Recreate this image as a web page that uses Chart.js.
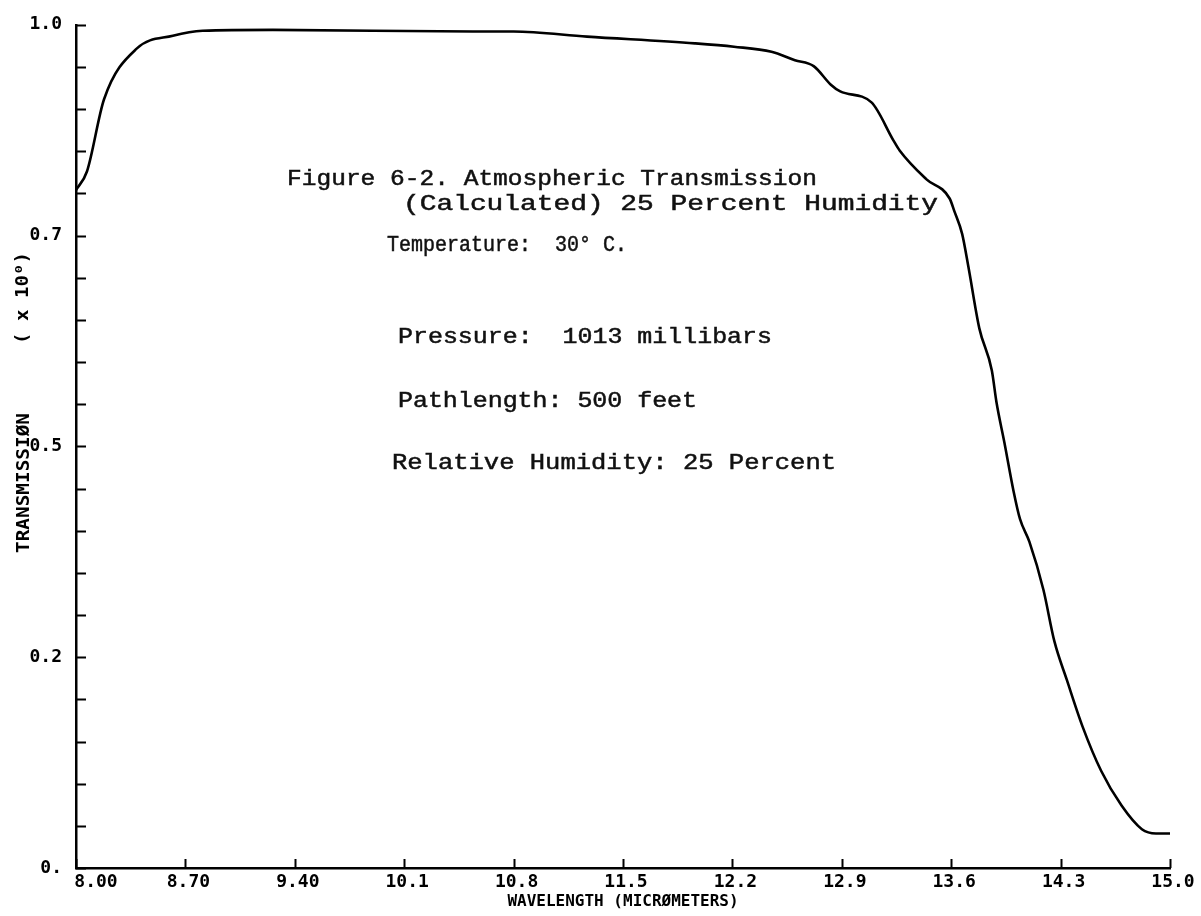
<!DOCTYPE html>
<html>
<head>
<meta charset="utf-8">
<title>Atmospheric Transmission</title>
<script src="https://cdn.jsdelivr.net/npm/chart.js@4.4.1/dist/chart.umd.min.js"></script>
<style>
  html, body { margin: 0; padding: 0; background: #fff; }
  #wrap { width: 1201px; height: 916px; }
</style>
</head>
<body>
<div id="wrap"><canvas id="chart" width="1201" height="916"></canvas></div>
<script>
// Calculated transmission curve, 8 to 15 micrometers
const wavelength = [
  8.00, 8.07, 8.18, 8.39, 8.62, 8.81, 9.26, 10.54, 10.80, 11.27,
  11.96, 12.21, 12.45, 12.60, 12.72, 12.83, 12.89, 13.09, 13.23, 13.27,
  13.44, 13.59, 13.62, 13.67, 13.71, 13.78, 13.86, 13.89, 13.94, 14.00,
  14.04, 14.10, 14.19, 14.26, 14.34, 14.44, 14.56, 14.69, 14.82, 14.91, 15.00
];
const transmission = [
  0.804, 0.826, 0.912, 0.972, 0.987, 0.993, 0.994, 0.992, 0.992, 0.986,
  0.978, 0.974, 0.968, 0.958, 0.951, 0.929, 0.921, 0.908, 0.863, 0.851,
  0.817, 0.794, 0.779, 0.752, 0.713, 0.640, 0.590, 0.552, 0.505, 0.446,
  0.414, 0.387, 0.330, 0.269, 0.223, 0.168, 0.115, 0.074, 0.046, 0.041, 0.041
];

// Axis ticks
const xTickValues = [8.0, 8.7, 9.4, 10.1, 10.8, 11.5, 12.2, 12.9, 13.6, 14.3, 15.0];
const xTickLabels = ['8.00', '8.70', '9.40', '10.1', '10.8', '11.5', '12.2', '12.9', '13.6', '14.3', '15.0'];
const yTickValues = [0, 0.05, 0.10, 0.15, 0.20, 0.25, 0.30, 0.35, 0.40, 0.45, 0.50,
                     0.55, 0.60, 0.65, 0.70, 0.75, 0.80, 0.85, 0.90, 0.95, 1.0];
const yLabelValues = [0, 0.25, 0.5, 0.75, 1.0];
const yTickLabels = ['0.', '0.2', '0.5', '0.7', '1.0'];

// Axis titles and the typed caption block
const xTitle = 'WAVELENGTH (MICRØMETERS)';
const yTitle = 'TRANSMISSIØN';
const yUnits = '( x 10⁰)';
const noteLines = [
  'Figure 6-2. Atmospheric Transmission',
  '(Calculated) 25 Percent Humidity',
  'Temperature:  30° C.',
  'Pressure:  1013 millibars',
  'Pathlength: 500 feet',
  'Relative Humidity: 25 Percent'
];

const MONO = '"DejaVu Sans Mono", "Liberation Mono", monospace';
const TYPE = '"Liberation Mono", "DejaVu Sans Mono", monospace';

// Each caption line is placed by its left edge, centre line and width
const noteBoxes = [
  { x: 287, y: 179, w: 530 },
  { x: 403, y: 204, w: 535 },
  { x: 387, y: 245, w: 240 },
  { x: 398, y: 337, w: 374 },
  { x: 398, y: 401, w: 299 },
  { x: 392, y: 463, w: 444 }
];

function drawFitted(ctx, text, x, y, w, stroke) {
  const natural = ctx.measureText(text).width;
  ctx.save();
  ctx.translate(x, y);
  ctx.scale(w / natural, 1);
  ctx.fillText(text, 0, 0);
  if (stroke) ctx.strokeText(text, 0, 0);
  ctx.restore();
}

const decorations = {
  id: 'decorations',
  afterDraw(chart) {
    const ctx = chart.ctx;
    const area = chart.chartArea;
    const xs = chart.scales.x;
    const ys = chart.scales.y;

    // Inward tick marks
    ctx.save();
    ctx.strokeStyle = '#000';
    ctx.lineWidth = 2;
    ctx.beginPath();
    xTickValues.forEach(v => {
      const px = Math.round(xs.getPixelForValue(v)) + 0.5;
      ctx.moveTo(px, area.bottom);
      ctx.lineTo(px, area.bottom - 9);
    });
    yTickValues.forEach(v => {
      const py = Math.round(ys.getPixelForValue(v)) + 0.5;
      ctx.moveTo(area.left, py);
      ctx.lineTo(area.left + 10, py);
    });
    ctx.stroke();
    ctx.restore();

    // Wavelength labels under the axis; the first one sits clear of the corner
    ctx.save();
    ctx.fillStyle = '#000';
    ctx.font = 'bold 18px ' + MONO;
    ctx.textAlign = 'center';
    ctx.textBaseline = 'middle';
    xTickValues.forEach((v, i) => {
      const shift = i === 0 ? 20 : 3;
      ctx.fillText(xTickLabels[i], xs.getPixelForValue(v) + shift, area.bottom + 14);
    });
    ctx.restore();

    // Vertical axis title, in two parts
    ctx.save();
    ctx.fillStyle = '#000';
    ctx.font = 'bold 18px ' + MONO;
    ctx.textAlign = 'left';
    ctx.textBaseline = 'middle';
    ctx.translate(24, 483);
    ctx.rotate(-Math.PI / 2);
    drawFitted(ctx, yTitle, -70, 0, 140);
    ctx.restore();

    ctx.save();
    ctx.fillStyle = '#000';
    ctx.font = 'bold 17px ' + MONO;
    ctx.textAlign = 'left';
    ctx.textBaseline = 'middle';
    ctx.translate(24, 298);
    ctx.rotate(-Math.PI / 2);
    drawFitted(ctx, yUnits, -46, 0, 92);
    ctx.restore();

    // Caption block
    ctx.save();
    ctx.fillStyle = '#111';
    ctx.strokeStyle = '#111';
    ctx.lineWidth = 0.5;
    ctx.font = '22px ' + TYPE;
    ctx.textAlign = 'left';
    ctx.textBaseline = 'middle';
    noteLines.forEach((t, i) => {
      const b = noteBoxes[i];
      drawFitted(ctx, t, b.x, b.y, b.w, true);
    });
    ctx.restore();
  }
};

const points = wavelength.map((x, i) => ({ x: x, y: transmission[i] }));

new Chart(document.getElementById('chart'), {
  type: 'line',
  data: {
    datasets: [{
      data: points,
      borderColor: '#000',
      borderWidth: 2.6,
      pointRadius: 0,
      fill: false,
      cubicInterpolationMode: 'monotone'
    }]
  },
  options: {
    responsive: false,
    animation: false,
    events: [],
    layout: { padding: { top: 24, right: 31, left: 0, bottom: 0 } },
    plugins: { legend: { display: false }, tooltip: { enabled: false } },
    scales: {
      x: {
        type: 'linear',
        min: 8,
        max: 15,
        afterBuildTicks: s => { s.ticks = xTickValues.map(v => ({ value: v })); },
        afterFit: s => { s.height = 48; },
        grid: { display: false, drawTicks: false },
        border: { display: true, color: '#000', width: 2.5 },
        ticks: { display: false },
        title: {
          display: true,
          text: xTitle,
          color: '#000',
          font: { family: MONO, size: 16, weight: 'bold' },
          padding: { top: 0, bottom: 5 }
        }
      },
      y: {
        min: 0,
        max: 1,
        afterBuildTicks: s => { s.ticks = yTickValues.map(v => ({ value: v })); },
        afterFit: s => { s.width = 76; },
        grid: { display: false, drawTicks: false },
        border: { display: true, color: '#000', width: 2.5 },
        ticks: {
          autoSkip: false,
          padding: 14,
          color: '#000',
          font: { family: MONO, size: 18, weight: 'bold' },
          callback: v => {
            const i = yLabelValues.findIndex(t => Math.abs(t - v) < 1e-9);
            return i >= 0 ? yTickLabels[i] : '';
          }
        }
      }
    }
  },
  plugins: [decorations]
});
</script>
</body>
</html>
